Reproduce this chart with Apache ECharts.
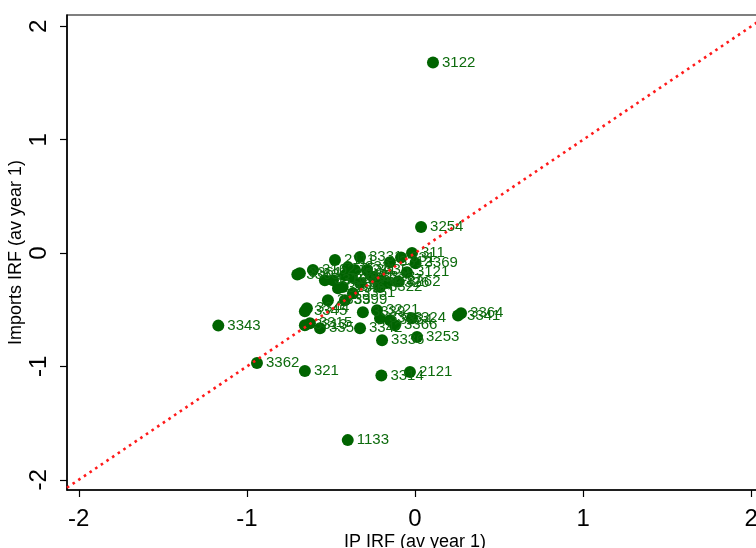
<!DOCTYPE html>
<html>
<head>
<meta charset="utf-8">
<script src="https://cdn.jsdelivr.net/npm/echarts@6/dist/echarts.min.js"></script>
<style>
html,body{margin:0;padding:0;background:#fff;}
#c{width:756px;height:548px;}
</style>
</head>
<body>
<div id="c"></div>
<script>
// Industry codes, IP IRF (x) and Imports IRF (y)
var labels = ["3122","3254","311","331","3369","3121","3343","3362","321","3314","2121","1133",
  "3364","3341","3253","3336","324","3342","3366","3221","3313","335","3315","3344","3345",
  "3351","3399","3359","3339","3333","3334","3361","3363","3162","2111","3331","3332","3169",
  "3149","3261","3335","3323","3327","3259","3322","3326","3312","3211","3159","3372","3262","3346"];
var ipIRF = [0.107,0.036,-0.018,-0.083,0.003,-0.048,-1.17,-0.94,-0.655,-0.20,-0.03,-0.40,
  0.274,0.256,0.012,-0.196,-0.018,-0.327,-0.119,-0.226,-0.655,-0.565,-0.625,-0.643,-0.655,
  -0.369,-0.417,-0.518,-0.31,-0.208,-0.149,-0.685,-0.70,-0.607,-0.476,-0.327,-0.399,-0.488,
  -0.417,-0.375,-0.286,-0.25,-0.208,-0.327,-0.208,-0.167,-0.149,-0.357,-0.458,-0.536,-0.10,-0.43];
var importsIRF = [1.68,0.23,0.00,-0.04,-0.09,-0.17,-0.64,-0.97,-1.04,-1.08,-1.05,-1.65,
  -0.53,-0.55,-0.74,-0.77,-0.575,-0.664,-0.637,-0.504,-0.637,-0.664,-0.62,-0.487,-0.513,
  -0.354,-0.416,-0.416,-0.522,-0.575,-0.593,-0.177,-0.19,-0.150,-0.062,-0.035,-0.124,-0.239,
  -0.195,-0.212,-0.150,-0.212,-0.239,-0.265,-0.30,-0.265,-0.08,-0.15,-0.31,-0.24,-0.25,-0.30];
var tickValues = [-2, -1, 0, 1, 2];
var xRange = [-2.07, 2.07];
var yRange = [-2.09, 2.1];
var diagRange = [-2.07, 2.07];

var pts = labels.map(function(l, i){ return [ipIRF[i], importsIRF[i], l]; });
var diag = diagRange.map(function(v){ return [v, v]; });

var font = "'Liberation Sans', Arial, Helvetica, sans-serif";
var chart = echarts.init(document.getElementById('c'));
chart.setOption({
  animation: false,
  backgroundColor: '#fff',
  grid: { left: 67, top: 15, bottom: 58, right: -7, containLabel: false, outerBoundsMode: 'none',
          show: true, borderColor: '#000', borderWidth: 1.2, backgroundColor: 'transparent' },
  xAxis: {
    type: 'value', min: xRange[0], max: xRange[1],
    name: 'IP IRF (av year 1)', nameLocation: 'middle', nameGap: 43, nameMoveOverlap: false,
    nameTextStyle: { fontFamily: font, fontSize: 18, color: '#000', verticalAlign: 'top' },
    axisLine: { show: true, onZero: false, lineStyle: { color: '#000', width: 1.5 } },
    axisTick: { show: true, length: 7, customValues: tickValues, lineStyle: { color: '#000', width: 1.2 } },
    axisLabel: { customValues: tickValues, fontFamily: font, fontSize: 24, color: '#000', margin: 17 },
    splitLine: { show: false }
  },
  yAxis: {
    type: 'value', min: yRange[0], max: yRange[1],
    name: 'Imports IRF (av year 1)', nameLocation: 'middle', nameGap: 42, nameRotate: 90, nameMoveOverlap: false,
    nameTextStyle: { fontFamily: font, fontSize: 18, color: '#000', verticalAlign: 'bottom' },
    axisLine: { show: true, onZero: false, lineStyle: { color: '#000', width: 1.5 } },
    axisTick: { show: true, length: 7, customValues: tickValues, lineStyle: { color: '#000', width: 1.2 } },
    axisLabel: { customValues: tickValues, rotate: 90, fontFamily: font, fontSize: 24, color: '#000', margin: 16 },
    splitLine: { show: false }
  },
  series: [
    {
      type: 'scatter', data: pts, symbolSize: 12, z: 2,
      itemStyle: { color: '#006400', opacity: 1 },
      label: {
        show: true, position: 'right', distance: 3,
        formatter: function(p){ return p.value[2]; },
        fontFamily: font, fontSize: 15, color: '#0d6b0d'
      },
      emphasis: { disabled: true }
    },
    {
      type: 'line', data: diag, symbol: 'none', z: 5, silent: true,
      lineStyle: { color: '#ff1a1a', width: 2.6, type: [2.6, 4.2] }
    }
  ]
});
</script>
</body>
</html>
